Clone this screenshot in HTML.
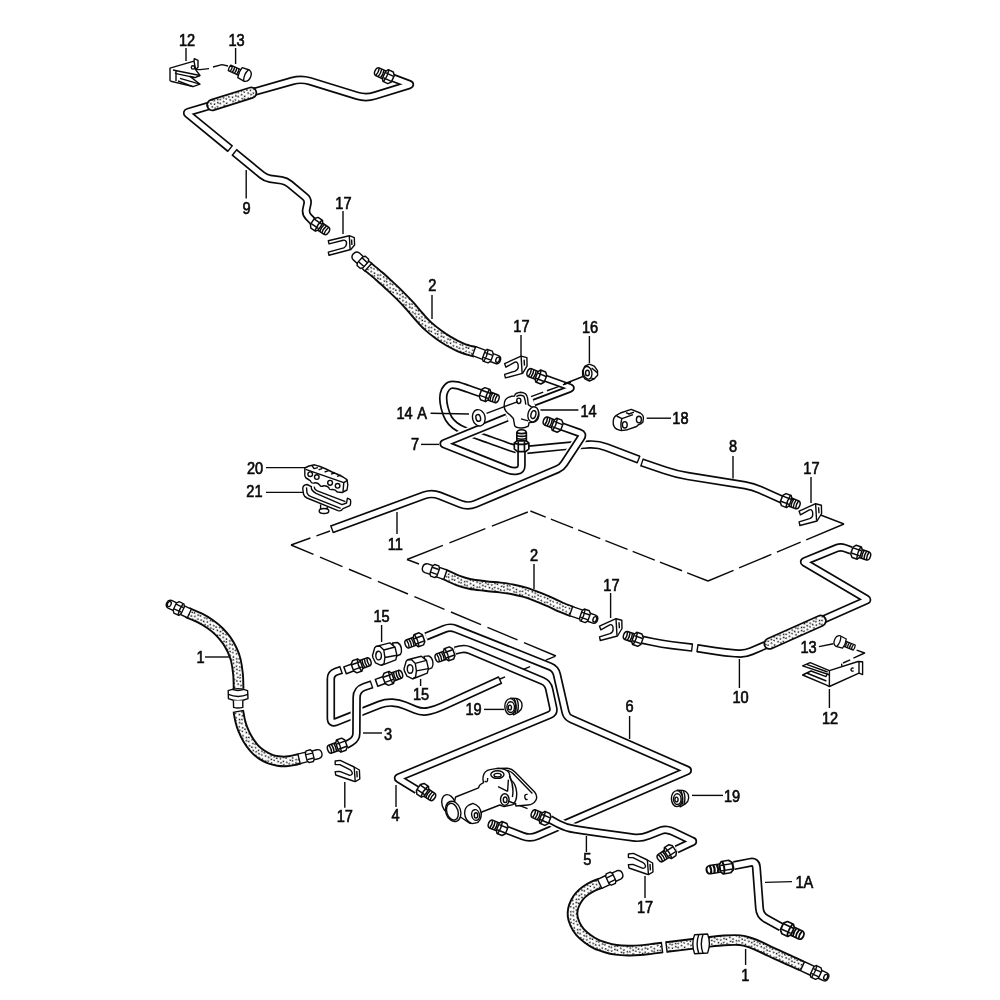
<!DOCTYPE html>
<html lang="en">
<head>
<meta charset="utf-8">
<title>Brake lines diagram</title>
<style>
html,body{margin:0;padding:0;background:#fff}
body{width:1000px;height:1000px;overflow:hidden}
svg{display:block}
.to{fill:none;stroke:#0a0a0a;stroke-linejoin:round;stroke-linecap:butt}
.ti{fill:none;stroke:#fff;stroke-linejoin:round;stroke-linecap:butt}
.hi{fill:none;stroke:url(#dots);stroke-linejoin:round;stroke-linecap:butt}
.s{fill:#fff;stroke:#0a0a0a;stroke-width:1.4;stroke-linejoin:round}
.l{fill:none;stroke:#0a0a0a;stroke-width:1.4;stroke-linecap:butt;stroke-linejoin:round}
text{word-spacing:1.6px;font-family:"Liberation Sans",Arial,Helvetica,sans-serif;fill:#0a0a0a;text-anchor:middle;stroke:#0a0a0a;stroke-width:0.65}
</style>
</head>
<body>
<svg width="1000" height="1000" viewBox="0 0 1000 1000">
<defs>
<pattern id="dots" width="13.6" height="13.6" patternUnits="userSpaceOnUse" patternTransform="rotate(24)">
<rect width="13.6" height="13.6" fill="#fff"/>
<circle cx="0.8" cy="1.8" r="0.85" fill="#0a0a0a"/>
<circle cx="14.4" cy="1.8" r="0.85" fill="#0a0a0a"/>
<circle cx="3.1" cy="5.1" r="0.85" fill="#0a0a0a"/>
<circle cx="0.9" cy="8.6" r="0.85" fill="#0a0a0a"/>
<circle cx="14.5" cy="8.6" r="0.85" fill="#0a0a0a"/>
<circle cx="2.1" cy="11.9" r="0.85" fill="#0a0a0a"/>
<circle cx="4.4" cy="2.1" r="0.85" fill="#0a0a0a"/>
<circle cx="5.4" cy="4.8" r="0.85" fill="#0a0a0a"/>
<circle cx="3.7" cy="8.9" r="0.85" fill="#0a0a0a"/>
<circle cx="6.2" cy="11.3" r="0.85" fill="#0a0a0a"/>
<circle cx="8.3" cy="2.4" r="0.85" fill="#0a0a0a"/>
<circle cx="9.6" cy="5.3" r="0.85" fill="#0a0a0a"/>
<circle cx="7.2" cy="7.8" r="0.85" fill="#0a0a0a"/>
<circle cx="9.4" cy="11.3" r="0.85" fill="#0a0a0a"/>
<circle cx="10.6" cy="1.3" r="0.85" fill="#0a0a0a"/>
<circle cx="12.1" cy="5.0" r="0.85" fill="#0a0a0a"/>
<circle cx="11.0" cy="9.0" r="0.85" fill="#0a0a0a"/>
<circle cx="-0.8" cy="12.1" r="0.85" fill="#0a0a0a"/>
<circle cx="12.8" cy="12.1" r="0.85" fill="#0a0a0a"/>
</pattern>
</defs>
<rect width="1000" height="1000" fill="#fff"/>
<path d="M330,531 L291,545" class="l" stroke-width="1.7" stroke-dasharray="14.4 6.4 22" stroke-dashoffset="0"/>
<path d="M291,545 L556,656" class="l" stroke-width="1.7" stroke-dasharray="24.4 7 24.4 7 24.4 7 32.6 7 32.6 7 32.6 7 32.6 7 40" stroke-dashoffset="0"/>
<path d="M556,656 L500,679" class="l" stroke-width="1.7" stroke-dasharray="10 17" stroke-dashoffset="-1"/>
<path d="M419,564 L407,559.5" class="l" stroke-width="1.7"/>
<path d="M407,559.5 L530.4,511" class="l" stroke-width="1.7" stroke-dasharray="38.6 7" stroke-dashoffset="0"/>
<path d="M530.4,511 L708,581" class="l" stroke-width="1.7" stroke-dasharray="16.5 5.5 23.8 5.5 23.8 5.5 23.8 5.5 23.8 5.5 23.8 5.5 30" stroke-dashoffset="0"/>
<path d="M708,581 L844,524" class="l" stroke-width="1.7" stroke-dasharray="27.7 6 35 6 25.8 6 45" stroke-dashoffset="0"/>
<path d="M844,524 L818,514" class="l" stroke-width="1.7"/>
<path d="M392,77.6 L409.2,84.1 Q410.6,84.6 409.2,85 L374.6,95.7 Q366,98.4 357.4,95.8 L309.6,81.1 Q301,78.5 292.3,81 L250,93" class="to" stroke-width="8.6"/>
<path d="M392,77.6 L409.2,84.1 Q410.6,84.6 409.2,85 L374.6,95.7 Q366,98.4 357.4,95.8 L309.6,81.1 Q301,78.5 292.3,81 L250,93" class="ti" stroke-width="5.2"/>
<g transform="translate(384.5,75) rotate(25) scale(1.06,1.06)">
<path d="M0,-4 L-7.4,-4 Q-9.8,-3.6 -9.8,0 Q-9.8,3.6 -7.4,4 L0,4 Z" class="s" stroke-width="1.7"/>
<path d="M-7.2,-4 Q-6,0 -7.2,4 M-4.8,-4 Q-3.6,0 -4.8,4 M-2.4,-4 Q-1.2,0 -2.4,4" class="l" stroke-width="1.9"/>
<path d="M-0.5,-3.6 L1.2,-6.1 L6.3,-6.1 L8.6,-3.4 L8.6,3.4 L6.3,6.1 L1.2,6.1 L-0.5,3.6 Z" class="s" stroke-width="1.8"/>
<path d="M0,-2.4 L8.3,-2.4 M0,2.8 L8.3,2.8 M1.8,-6 Q3.2,0 1.8,6" class="l" stroke-width="1.3"/>
</g>
<path d="M214,104.4 L188.2,112.1 Q186.3,112.7 187.8,114 L230,148.6" class="to" stroke-width="8.6"/>
<path d="M214,104.4 L188.2,112.1 Q186.3,112.7 187.8,114 L230,148.6" class="ti" stroke-width="5.2"/>
<path d="M232.6,145.4 L227.4,151.8" class="l"/>
<path d="M234.5,152.5 L262,175.1 Q265.5,178 270,178.7 L281.5,180.3 Q286,181 289.5,183.9 L304.9,196.7 Q308.4,199.6 307.4,204 L306.3,209.1 Q305.3,213.5 308.4,216.8 L314,222.6" class="to" stroke-width="8.6"/>
<path d="M234.5,152.5 L262,175.1 Q265.5,178 270,178.7 L281.5,180.3 Q286,181 289.5,183.9 L304.9,196.7 Q308.4,199.6 307.4,204 L306.3,209.1 Q305.3,213.5 308.4,216.8 L314,222.6" class="ti" stroke-width="5.2"/>
<path d="M231.9,155.7 L237.1,149.3" class="l"/>
<path d="M212.4,105 L251,92.8" class="to" stroke-width="12.4" style="stroke-linecap:round"/>
<path d="M212.4,105 L251,92.8" class="hi" stroke-width="9" style="stroke-linecap:round"/>
<g transform="translate(320,226.5) rotate(214) scale(1.06,1.06)">
<path d="M0,-4 L-7.4,-4 Q-9.8,-3.6 -9.8,0 Q-9.8,3.6 -7.4,4 L0,4 Z" class="s" stroke-width="1.7"/>
<path d="M-7.2,-4 Q-6,0 -7.2,4 M-4.8,-4 Q-3.6,0 -4.8,4 M-2.4,-4 Q-1.2,0 -2.4,4" class="l" stroke-width="1.9"/>
<path d="M-0.5,-3.6 L1.2,-6.1 L6.3,-6.1 L8.6,-3.4 L8.6,3.4 L6.3,6.1 L1.2,6.1 L-0.5,3.6 Z" class="s" stroke-width="1.8"/>
<path d="M0,-2.4 L8.3,-2.4 M0,2.8 L8.3,2.8 M1.8,-6 Q3.2,0 1.8,6" class="l" stroke-width="1.3"/>
</g>
<path d="M170,68.2 L194,61.2 L194.3,58.6 L198,60.4 L198,67.2 L195.6,69.6 L200,75.5 L195,77.6 L190,76.4 L200,84.2 L193,86.6 L171,81.2 L170,80.4 Z" class="s" stroke-width="1.5"/>
<path d="M173,70 L200,75.5 M175,73.4 L195,77.6 M176,70.4 L176,81 M180,78.4 L200,84.2 M178,81 L193,86.6 M194,61.2 L195.6,69.6" class="l" stroke-width="1.2"/>
<circle cx="193" cy="67.4" r="1.7" class="s" stroke-width="1.1"/>
<path d="M194.6,68.6 Q197,69.8 200,69.6 L209,68.6 M213,67 L222,64.6 L228,66" class="l" stroke-width="1.4"/>
<g transform="translate(240,72.6) rotate(24)">
<path d="M-11.5,-3 L0,-3 L0,3 L-11.5,3 Q-12.6,0 -11.5,-3 Z" class="s" stroke-width="1.4"/>
<path d="M-9.6,-3 Q-8.6,0 -9.6,3 M-7.2,-3 Q-6.2,0 -7.2,3 M-4.8,-3 Q-3.8,0 -4.8,3 M-2.4,-3 Q-1.4,0 -2.4,3" class="l" stroke-width="1.5"/>
<path d="M0,-5.4 L7.5,-6.2 Q11.5,-5 11.5,0 Q11.5,5 7.5,6.2 L0,5.4 Q-1.6,0 0,-5.4 Z" class="s" stroke-width="1.6"/>
<path d="M6.6,-6 Q4,0 6.6,6" class="l" stroke-width="1.1"/>
</g>
<g transform="translate(341.3,245.5)">
<path d="M-13,-4.8 L8,-9.8 L13,-7.8 L13.3,-0.5 L9.5,4 L-12.3,9.8 L-13,6.6 L2.5,2.3 Q5.6,0.5 5.2,-3 Q4.6,-5.6 2,-5.3 L-12.3,-1.6 Z" class="s" stroke-width="1.6"/>
<path d="M8,-9.5 L8.8,3.8 M10.3,-6 L10.6,-0.5" class="l" stroke-width="1.1"/>
</g>
<path d="M367,266 C369,267.7 375.2,272.7 379,276 C382.8,279.3 386.5,282.8 390,286 C393.5,289.2 396.7,292.2 400,295.5 C403.3,298.8 406.8,302.5 410,306 C413.2,309.5 416,313.2 419,316.5 C422,319.8 424.8,323.1 428,326 C431.2,328.9 434.7,331.7 438,334.2 C441.3,336.7 444,338.5 448,340.8 C452,343.1 457.4,346.1 462,348 C466.6,349.9 473.2,351.3 475.5,352" class="to" stroke-width="11.6"/>
<path d="M367,266 C369,267.7 375.2,272.7 379,276 C382.8,279.3 386.5,282.8 390,286 C393.5,289.2 396.7,292.2 400,295.5 C403.3,298.8 406.8,302.5 410,306 C413.2,309.5 416,313.2 419,316.5 C422,319.8 424.8,323.1 428,326 C431.2,328.9 434.7,331.7 438,334.2 C441.3,336.7 444,338.5 448,340.8 C452,343.1 457.4,346.1 462,348 C466.6,349.9 473.2,351.3 475.5,352" class="hi" stroke-width="7.8"/>
<g transform="translate(367.5,266.5) rotate(222)">
<path d="M7,-4.6 L15,-4.6 Q19,-4.2 19,0 Q19,4.2 15,4.6 L7,4.6 Z" class="s" stroke-width="1.6"/>
<path d="M-1,-5 L3,-5 L3,5 L-1,5 Z" class="s" stroke-width="1.5"/>
<path d="M2.5,-3.8 L4,-6.2 L8.5,-6.2 L10,-3.8 L10,3.8 L8.5,6.2 L4,6.2 L2.5,3.8 Z" class="s" stroke-width="1.7"/>
<path d="M3,-2.4 L9.8,-2.4 M3,2.8 L9.8,2.8" class="l" stroke-width="1.1"/>
</g>
<g transform="translate(475,351.5) rotate(20) scale(0.98,0.98)">
<path d="M16,-4.3 L24,-4.3 Q27.5,-4 27.5,0 Q27.5,4 24,4.3 L16,4.3 Z" class="s" stroke-width="1.6"/>
<ellipse cx="24.6" cy="0" rx="1.8" ry="2.8" class="s" stroke-width="1.3"/>
<path d="M-1,-4.9 L10,-4.9 L10,4.9 L-1,4.9 Z" class="s" stroke-width="1.6"/>
<path d="M9.5,-3.8 L11,-6.4 L16.5,-6.4 L18.5,-3.8 L18.5,3.8 L16.5,6.4 L11,6.4 L9.5,3.8 Z" class="s" stroke-width="1.7"/>
<path d="M10,-2.4 L18.3,-2.4 M10,2.8 L18.3,2.8 M12,-6.2 Q13.2,0 12,6.2" class="l" stroke-width="1.1"/>
</g>
<g transform="translate(515.5,367)">
<path d="M-10.9,-3.4 L5.6,-10.9 L11.4,-9.4 L11.6,-1.1 L7.1,6.4 L-10.1,10.9 L-10.9,7.3 L-0.4,4.1 Q2.8,2.6 2.7,0.2 Q2.9,-3.2 1.9,-4.1 Q1,-5.3 -0.6,-4.8 L-9.6,0.2 Z" class="s" stroke-width="1.6"/>
<path d="M5.6,-10.9 L6.6,6.2 M8.6,-7.4 L9,-1.4" class="l" stroke-width="1.1"/>
</g>
<path d="M480,393 C478,392.3 471.8,390.1 468,388.8 C464.2,387.5 460.1,385.8 457,385.2 C453.9,384.6 451.5,384.4 449.5,385.3 C447.5,386.2 445.9,388.4 444.8,390.5 C443.8,392.6 443.2,395.1 443.2,398 C443.2,400.9 443.7,404.6 444.6,408 C445.5,411.4 446.9,415.6 448.6,418.5 C450.3,421.4 452.3,423.4 455,425.5 C457.7,427.6 459.2,428.6 465,431 C470.8,433.4 482.5,437.3 490,440 C497.5,442.7 504.8,445.5 510,447.2 C515.2,448.9 519.6,449.9 521.5,450.4" class="to" stroke-width="8.6"/>
<path d="M480,393 C478,392.3 471.8,390.1 468,388.8 C464.2,387.5 460.1,385.8 457,385.2 C453.9,384.6 451.5,384.4 449.5,385.3 C447.5,386.2 445.9,388.4 444.8,390.5 C443.8,392.6 443.2,395.1 443.2,398 C443.2,400.9 443.7,404.6 444.6,408 C445.5,411.4 446.9,415.6 448.6,418.5 C450.3,421.4 452.3,423.4 455,425.5 C457.7,427.6 459.2,428.6 465,431 C470.8,433.4 482.5,437.3 490,440 C497.5,442.7 504.8,445.5 510,447.2 C515.2,448.9 519.6,449.9 521.5,450.4" class="ti" stroke-width="5.2"/>
<path d="M521.5,450.4 L557.5,446.8 Q571,445.5 584.5,444.8 L589,444.5 Q598,444 606.4,447.2 L638.5,459.5" class="to" stroke-width="8.6"/>
<path d="M521.5,450.4 L557.5,446.8 Q571,445.5 584.5,444.8 L589,444.5 Q598,444 606.4,447.2 L638.5,459.5" class="ti" stroke-width="5.2"/>
<path d="M640,455.7 L637,463.3" class="l"/>
<path d="M642,462.5 L664.7,470.3 Q676,474.2 687.8,476.1 L745.1,485.3 Q753,486.6 760.3,489.9 L782,499.6" class="to" stroke-width="8.6"/>
<path d="M642,462.5 L664.7,470.3 Q676,474.2 687.8,476.1 L745.1,485.3 Q753,486.6 760.3,489.9 L782,499.6" class="ti" stroke-width="5.2"/>
<path d="M640.7,466.4 L643.3,458.6" class="l"/>
<g transform="translate(790,502) rotate(201) scale(1.06,1.06)">
<path d="M0,-4 L-7.4,-4 Q-9.8,-3.6 -9.8,0 Q-9.8,3.6 -7.4,4 L0,4 Z" class="s" stroke-width="1.7"/>
<path d="M-7.2,-4 Q-6,0 -7.2,4 M-4.8,-4 Q-3.6,0 -4.8,4 M-2.4,-4 Q-1.2,0 -2.4,4" class="l" stroke-width="1.9"/>
<path d="M-0.5,-3.6 L1.2,-6.1 L6.3,-6.1 L8.6,-3.4 L8.6,3.4 L6.3,6.1 L1.2,6.1 L-0.5,3.6 Z" class="s" stroke-width="1.8"/>
<path d="M0,-2.4 L8.3,-2.4 M0,2.8 L8.3,2.8 M1.8,-6 Q3.2,0 1.8,6" class="l" stroke-width="1.3"/>
</g>
<g transform="translate(489,396) rotate(200) scale(1.06,1.06)">
<path d="M0,-4 L-7.4,-4 Q-9.8,-3.6 -9.8,0 Q-9.8,3.6 -7.4,4 L0,4 Z" class="s" stroke-width="1.7"/>
<path d="M-7.2,-4 Q-6,0 -7.2,4 M-4.8,-4 Q-3.6,0 -4.8,4 M-2.4,-4 Q-1.2,0 -2.4,4" class="l" stroke-width="1.9"/>
<path d="M-0.5,-3.6 L1.2,-6.1 L6.3,-6.1 L8.6,-3.4 L8.6,3.4 L6.3,6.1 L1.2,6.1 L-0.5,3.6 Z" class="s" stroke-width="1.8"/>
<path d="M0,-2.4 L8.3,-2.4 M0,2.8 L8.3,2.8 M1.8,-6 Q3.2,0 1.8,6" class="l" stroke-width="1.3"/>
</g>
<path d="M546,378.5 L569.6,387 Q572.4,388 569.6,389.1 L534,402.6" class="to" stroke-width="7.6"/>
<path d="M546,378.5 L569.6,387 Q572.4,388 569.6,389.1 L534,402.6" class="ti" stroke-width="4.2"/>
<g transform="translate(537,375.5) rotate(22) scale(1.06,1.06)">
<path d="M0,-4 L-7.4,-4 Q-9.8,-3.6 -9.8,0 Q-9.8,3.6 -7.4,4 L0,4 Z" class="s" stroke-width="1.7"/>
<path d="M-7.2,-4 Q-6,0 -7.2,4 M-4.8,-4 Q-3.6,0 -4.8,4 M-2.4,-4 Q-1.2,0 -2.4,4" class="l" stroke-width="1.9"/>
<path d="M-0.5,-3.6 L1.2,-6.1 L6.3,-6.1 L8.6,-3.4 L8.6,3.4 L6.3,6.1 L1.2,6.1 L-0.5,3.6 Z" class="s" stroke-width="1.8"/>
<path d="M0,-2.4 L8.3,-2.4 M0,2.8 L8.3,2.8 M1.8,-6 Q3.2,0 1.8,6" class="l" stroke-width="1.3"/>
</g>
<path d="M521.5,450 L521.5,465.4 Q521.5,470 517,470.8 L517,470.8 Q512.5,471.5 508.3,469.8 L444.4,444.3 Q443,443.7 444.4,443.1 L507,417.6" class="ti" stroke-width="11.8"/>
<path d="M521.5,450 L521.5,465.4 Q521.5,470 517,470.8 L517,470.8 Q512.5,471.5 508.3,469.8 L444.4,444.3 Q443,443.7 444.4,443.1 L507,417.6" class="to" stroke-width="8.6"/>
<path d="M521.5,450 L521.5,465.4 Q521.5,470 517,470.8 L517,470.8 Q512.5,471.5 508.3,469.8 L444.4,444.3 Q443,443.7 444.4,443.1 L507,417.6" class="ti" stroke-width="5.2"/>
<path d="M531,396.6 L571,382" class="l" stroke-width="1.4" stroke-dasharray="13 4" stroke-dashoffset="0"/>
<path d="M564,384 L583,376.5" class="l" stroke-width="1.4"/>
<g transform="translate(478.8,417.8) rotate(-14)">
<ellipse rx="6.3" ry="8.3" class="s" stroke-width="2"/><ellipse cx="-0.6" rx="2.3" ry="3.4" class="s" stroke-width="1.5"/>
</g>
<path d="M514.6,396 Q515,392.6 521,392.3 Q527,392.8 527.6,398.4 L528.3,404.6 L531,406.6 L536,407.4 Q539.4,411 538.8,416 Q538,421.4 533,422.4 L529,422.6 L528.4,426.2 Q524,428.4 520.6,428 Q515,427.6 514.6,425.4 L513.4,418.6 L509.6,414.6 Q504,411 504.2,406 Q504,399 508.4,397.4 Q511.6,396 514.6,396 Z" class="s" stroke-width="1.6"/>
<ellipse cx="533.2" cy="414.4" rx="5.2" ry="7.6" class="s" stroke-width="1.7" transform="rotate(14 533.2 414.4)"/><ellipse cx="533.4" cy="414.6" rx="2.4" ry="4" class="s" stroke-width="1.3" transform="rotate(14 533.4 414.6)"/>
<ellipse cx="518.8" cy="400.8" rx="2.1" ry="2.7" class="s" stroke-width="1.3"/>
<path d="M516.4,396.6 Q520,394 524,396.4 Q525.4,400 525.8,404.6 M521,418.8 L528.2,420.8" class="l" stroke-width="1.2"/>
<path d="M486.5,413.3 L518,401.6" class="l" stroke-width="1.4"/>
<g transform="translate(521.6,441.4) rotate(90) scale(1.19,1.19)">
<path d="M0,-4 L-7.4,-4 Q-9.8,-3.6 -9.8,0 Q-9.8,3.6 -7.4,4 L0,4 Z" class="s" stroke-width="1.7"/>
<path d="M-7.2,-4 Q-6,0 -7.2,4 M-4.8,-4 Q-3.6,0 -4.8,4 M-2.4,-4 Q-1.2,0 -2.4,4" class="l" stroke-width="1.9"/>
<path d="M-0.5,-3.6 L1.2,-6.1 L6.3,-6.1 L8.6,-3.4 L8.6,3.4 L6.3,6.1 L1.2,6.1 L-0.5,3.6 Z" class="s" stroke-width="1.8"/>
<path d="M0,-2.4 L8.3,-2.4 M0,2.8 L8.3,2.8 M1.8,-6 Q3.2,0 1.8,6" class="l" stroke-width="1.3"/>
</g>
<path d="M561,426.2 L579.6,432.9 Q583.4,434.2 581.2,437.5 L564.1,463.6 Q561.6,467.4 557.5,469.2 L475.4,503.9 Q468,507 460.6,504 L439.4,495.6 Q432,492.6 424.5,495.3 L332,529.2" class="ti" stroke-width="11.8"/>
<path d="M561,426.2 L579.6,432.9 Q583.4,434.2 581.2,437.5 L564.1,463.6 Q561.6,467.4 557.5,469.2 L475.4,503.9 Q468,507 460.6,504 L439.4,495.6 Q432,492.6 424.5,495.3 L332,529.2" class="to" stroke-width="8.6"/>
<path d="M561,426.2 L579.6,432.9 Q583.4,434.2 581.2,437.5 L564.1,463.6 Q561.6,467.4 557.5,469.2 L475.4,503.9 Q468,507 460.6,504 L439.4,495.6 Q432,492.6 424.5,495.3 L332,529.2" class="ti" stroke-width="5.2"/>
<path d="M333.4,533.1 L330.6,525.3" class="l"/>
<g transform="translate(553.3,423.8) rotate(21) scale(1.06,1.06)">
<path d="M0,-4 L-7.4,-4 Q-9.8,-3.6 -9.8,0 Q-9.8,3.6 -7.4,4 L0,4 Z" class="s" stroke-width="1.7"/>
<path d="M-7.2,-4 Q-6,0 -7.2,4 M-4.8,-4 Q-3.6,0 -4.8,4 M-2.4,-4 Q-1.2,0 -2.4,4" class="l" stroke-width="1.9"/>
<path d="M-0.5,-3.6 L1.2,-6.1 L6.3,-6.1 L8.6,-3.4 L8.6,3.4 L6.3,6.1 L1.2,6.1 L-0.5,3.6 Z" class="s" stroke-width="1.8"/>
<path d="M0,-2.4 L8.3,-2.4 M0,2.8 L8.3,2.8 M1.8,-6 Q3.2,0 1.8,6" class="l" stroke-width="1.3"/>
</g>
<path d="M582.6,370.7 L584.9,366.2 L589.4,364.1 L594.3,366.2 L597.5,370.7 L597.6,375.2 L594.3,378.8 L589.4,381 L584.9,378.8 L582.6,375.2 Z" class="s" stroke-width="1.7"/>
<ellipse cx="587.6" cy="372.8" rx="4.3" ry="6.4" class="s" stroke-width="1.3" transform="rotate(-12 587.6 372.8)"/><ellipse cx="587.4" cy="373" rx="1.9" ry="2.8" class="s" stroke-width="1.2"/>
<path d="M591.6,368 L597.2,372.6 M591.4,378.4 L594.2,378.6" class="l" stroke-width="1.1"/>
<path d="M613.2,422 Q613.4,417.4 615.9,415.7 L620.4,413 L631.2,409.4 L640.2,413 Q643.6,415 643.4,418.4 L642.9,422 Q641.6,424 638.4,424.7 L636.6,426.5 L627.6,429.7 L621.3,430.6 Q615.6,429.4 614.2,426.6 Q613,424.6 613.2,422 Z" class="s" stroke-width="1.6"/>
<ellipse cx="624.8" cy="424.8" rx="2.4" ry="3.2" class="s" stroke-width="1.3"/><ellipse cx="638.9" cy="419.6" rx="2.5" ry="3.3" class="s" stroke-width="1.3"/>
<path d="M616.6,416 L622,418.6 L633,414.6 M622,418.6 Q620,424 621.6,430.4 M626,412.6 L629,414 L634,412.2" class="l" stroke-width="1.2"/>
<g transform="translate(810,514.6)">
<path d="M-10.9,-3.4 L5.6,-10.9 L11.4,-9.4 L11.6,-1.1 L7.1,6.4 L-10.1,10.9 L-10.9,7.3 L-0.4,4.1 Q2.8,2.6 2.7,0.2 Q2.9,-3.2 1.9,-4.1 Q1,-5.3 -0.6,-4.8 L-9.6,0.2 Z" class="s" stroke-width="1.6"/>
<path d="M5.6,-10.9 L6.6,6.2 M8.6,-7.4 L9,-1.4" class="l" stroke-width="1.1"/>
</g>
<path d="M307,484.5 Q302.5,485 302.8,489 L303.5,494 Q304,496.5 307,498 L338,510.6 Q341,511.6 343,508.6 L350,505.6 Q351.2,502 350.3,499.6 L347.4,498.2 L346.6,503 L342,504.6 L316,493.4 Q310.4,490 311.4,486.6 Z" class="s" stroke-width="1.5"/>
<path d="M306.5,487.4 L307,493 Q308,495.5 311,496.6 L340.6,508.4 M314.4,486.6 Q314,489.6 318.6,491.4 L345.4,501.6" class="l" stroke-width="1.2"/>
<path d="M320.6,504.4 L320.6,509 M327.2,507 L327.2,509.6" class="l" stroke-width="1.3"/><ellipse cx="324" cy="511" rx="4.8" ry="2.5" class="s" stroke-width="1.4"/>
<path d="M304.8,468 L309,466 L314.5,464.8 L320,466.5 L326,469 L332,472 L338,474.5 L343,477 L347,479.7 L347.8,485 L347,490 L342,492.5 L337.3,492 Q335,489 332,489.5 Q329,490 328.8,487.5 Q326,485 323,486 Q320.5,487 319.7,485 Q317,482 314,483 Q311,483.5 310.6,481 Q308,479 306,478 Q304.5,476 304.8,474.5 Z" class="s" stroke-width="1.6"/>
<circle cx="310.2" cy="474.2" r="2.3" class="s" stroke-width="1.2"/><circle cx="316.8" cy="477.1" r="2.3" class="s" stroke-width="1.2"/><circle cx="330.1" cy="482.8" r="2.4" class="s" stroke-width="1.2"/><circle cx="337.6" cy="485.8" r="2.3" class="s" stroke-width="1.2"/>
<path d="M305.7,469.4 L343.8,482.6 L343,491.6 M343.8,482.6 L347.4,480.4 M312,465.6 L314,468.6 L318,467.6 M318.6,469.8 L322.4,468.4 M324.6,472 L328.6,470.6 M331,474.2 L335,472.8 M337,476.4 L341,475.2" class="l" stroke-width="1.2"/>
<path d="M851,550.4 L844.4,548 Q840.6,546.6 836.9,548.1 L804.8,561.2 Q803.4,561.8 804.7,562.6 L866.5,599 Q867.8,599.8 866.4,600.4 L819,621.4" class="to" stroke-width="8.6"/>
<path d="M851,550.4 L844.4,548 Q840.6,546.6 836.9,548.1 L804.8,561.2 Q803.4,561.8 804.7,562.6 L866.5,599 Q867.8,599.8 866.4,600.4 L819,621.4" class="ti" stroke-width="5.2"/>
<g transform="translate(860.5,553.5) rotate(199) scale(1.06,1.06)">
<path d="M0,-4 L-7.4,-4 Q-9.8,-3.6 -9.8,0 Q-9.8,3.6 -7.4,4 L0,4 Z" class="s" stroke-width="1.7"/>
<path d="M-7.2,-4 Q-6,0 -7.2,4 M-4.8,-4 Q-3.6,0 -4.8,4 M-2.4,-4 Q-1.2,0 -2.4,4" class="l" stroke-width="1.9"/>
<path d="M-0.5,-3.6 L1.2,-6.1 L6.3,-6.1 L8.6,-3.4 L8.6,3.4 L6.3,6.1 L1.2,6.1 L-0.5,3.6 Z" class="s" stroke-width="1.8"/>
<path d="M0,-2.4 L8.3,-2.4 M0,2.8 L8.3,2.8 M1.8,-6 Q3.2,0 1.8,6" class="l" stroke-width="1.3"/>
</g>
<path d="M771,642.8 L751.4,651.2 Q745,654 738,653.5 L735,653.3 Q725,652.6 715.1,651 L697.5,648.2" class="to" stroke-width="8.6"/>
<path d="M771,642.8 L751.4,651.2 Q745,654 738,653.5 L735,653.3 Q725,652.6 715.1,651 L697.5,648.2" class="ti" stroke-width="5.2"/>
<path d="M696.9,652.2 L698.1,644.2" class="l"/>
<path d="M692,647.6 L671.9,645.2 Q662,644 652.2,641.9 L642,639.8" class="to" stroke-width="8.6"/>
<path d="M692,647.6 L671.9,645.2 Q662,644 652.2,641.9 L642,639.8" class="ti" stroke-width="5.2"/>
<path d="M692.5,643.5 L691.5,651.7" class="l"/>
<path d="M769.6,643.6 L820.6,620.8" class="to" stroke-width="12.4" style="stroke-linecap:round"/>
<path d="M769.6,643.6 L820.6,620.8" class="hi" stroke-width="9" style="stroke-linecap:round"/>
<g transform="translate(633.5,638) rotate(19) scale(1.06,1.06)">
<path d="M0,-4 L-7.4,-4 Q-9.8,-3.6 -9.8,0 Q-9.8,3.6 -7.4,4 L0,4 Z" class="s" stroke-width="1.7"/>
<path d="M-7.2,-4 Q-6,0 -7.2,4 M-4.8,-4 Q-3.6,0 -4.8,4 M-2.4,-4 Q-1.2,0 -2.4,4" class="l" stroke-width="1.9"/>
<path d="M-0.5,-3.6 L1.2,-6.1 L6.3,-6.1 L8.6,-3.4 L8.6,3.4 L6.3,6.1 L1.2,6.1 L-0.5,3.6 Z" class="s" stroke-width="1.8"/>
<path d="M0,-2.4 L8.3,-2.4 M0,2.8 L8.3,2.8 M1.8,-6 Q3.2,0 1.8,6" class="l" stroke-width="1.3"/>
</g>
<g transform="translate(844.4,643.6) rotate(202) scale(0.92,0.92)">
<path d="M-11.5,-3 L0,-3 L0,3 L-11.5,3 Q-12.6,0 -11.5,-3 Z" class="s" stroke-width="1.4"/>
<path d="M-9.6,-3 Q-8.6,0 -9.6,3 M-7.2,-3 Q-6.2,0 -7.2,3 M-4.8,-3 Q-3.8,0 -4.8,3 M-2.4,-3 Q-1.4,0 -2.4,3" class="l" stroke-width="1.5"/>
<path d="M0,-5.4 L7.5,-6.2 Q11.5,-5 11.5,0 Q11.5,5 7.5,6.2 L0,5.4 Q-1.6,0 0,-5.4 Z" class="s" stroke-width="1.6"/>
<path d="M6.6,-6 Q4,0 6.6,6" class="l" stroke-width="1.1"/>
</g>
<path d="M856.6,650.2 L864.6,653 L853.4,658.2 M850.2,659.8 L843,663 M841.6,663.6 L841.8,666" class="l" stroke-width="1.4"/>
<path d="M829.4,670.6 L858,661.5 L862.6,661.8 L862.6,674.6 L859,673.2 L829.4,686.5 L826.6,685.2 L802.6,675 L811,671 L826,676.6 L827,674 L802.6,665.8 L810.2,662.6 Z" class="s" stroke-width="1.5"/>
<path d="M829.4,670.6 L829.4,686.5 M859,661.6 L859,673.2 M827,674 L829.4,675 M806.6,664.4 L827.6,672 M806.6,673 L826.4,681" class="l" stroke-width="1.2"/>
<path d="M853.6,668.2 Q851,667.6 851,669.6 Q851,671.6 853.6,671" class="l" stroke-width="1.2"/>
<path d="M443.6,574 C446,575.1 453.6,578.8 458,580.5 C462.4,582.2 465.5,583.1 470,584 C474.5,584.9 480,585.4 485,586 C490,586.6 495.5,587 500,587.5 C504.5,588 508,588.5 512,589.2 C516,590 519.8,590.8 524,592 C528.2,593.2 532.7,594.9 537,596.6 C541.3,598.3 546,600.2 550,602 C554,603.8 557.3,605.6 561,607.2 C564.7,608.8 570.5,610.9 572.4,611.6" class="to" stroke-width="11.6"/>
<path d="M443.6,574 C446,575.1 453.6,578.8 458,580.5 C462.4,582.2 465.5,583.1 470,584 C474.5,584.9 480,585.4 485,586 C490,586.6 495.5,587 500,587.5 C504.5,588 508,588.5 512,589.2 C516,590 519.8,590.8 524,592 C528.2,593.2 532.7,594.9 537,596.6 C541.3,598.3 546,600.2 550,602 C554,603.8 557.3,605.6 561,607.2 C564.7,608.8 570.5,610.9 572.4,611.6" class="hi" stroke-width="7.8"/>
<g transform="translate(444.4,574.4) rotate(199)">
<path d="M11,-4.6 L19,-4.6 Q23,-4.2 23,0 Q23,4.2 19,4.6 L11,4.6 Z" class="s" stroke-width="1.6"/>
<path d="M-1,-5 L7,-5 L7,5 L-1,5 Z" class="s" stroke-width="1.5"/>
<path d="M6.5,-3.8 L8,-6.2 L12.5,-6.2 L14,-3.8 L14,3.8 L12.5,6.2 L8,6.2 L6.5,3.8 Z" class="s" stroke-width="1.7"/>
<path d="M7,-2.4 L13.8,-2.4 M7,2.8 L13.8,2.8" class="l" stroke-width="1.1"/>
</g>
<g transform="translate(572,611.4) rotate(19) scale(0.98,0.98)">
<path d="M16,-4.3 L24,-4.3 Q27.5,-4 27.5,0 Q27.5,4 24,4.3 L16,4.3 Z" class="s" stroke-width="1.6"/>
<ellipse cx="24.6" cy="0" rx="1.8" ry="2.8" class="s" stroke-width="1.3"/>
<path d="M-1,-4.9 L10,-4.9 L10,4.9 L-1,4.9 Z" class="s" stroke-width="1.6"/>
<path d="M9.5,-3.8 L11,-6.4 L16.5,-6.4 L18.5,-3.8 L18.5,3.8 L16.5,6.4 L11,6.4 L9.5,3.8 Z" class="s" stroke-width="1.7"/>
<path d="M10,-2.4 L18.3,-2.4 M10,2.8 L18.3,2.8 M12,-6.2 Q13.2,0 12,6.2" class="l" stroke-width="1.1"/>
</g>
<g transform="translate(610.4,629.6)">
<path d="M-10.9,-3.4 L5.6,-10.9 L11.4,-9.4 L11.6,-1.1 L7.1,6.4 L-10.1,10.9 L-10.9,7.3 L-0.4,4.1 Q2.8,2.6 2.7,0.2 Q2.9,-3.2 1.9,-4.1 Q1,-5.3 -0.6,-4.8 L-9.6,0.2 Z" class="s" stroke-width="1.6"/>
<path d="M5.6,-10.9 L6.6,6.2 M8.6,-7.4 L9,-1.4" class="l" stroke-width="1.1"/>
</g>
<path d="M341,670 L335.9,671.8 Q330.8,673.6 330.8,679 L330.8,718 Q330.8,724 336.4,721.8 L379.9,704.6 Q386,702.2 392.5,702.6 L392.5,702.6 Q399,703 405,705.5 L415.4,709.8 Q422,712.6 429,711 L429,711 Q436,709.4 442.5,706.4 L500,680.2" class="to" stroke-width="8.6"/>
<path d="M341,670 L335.9,671.8 Q330.8,673.6 330.8,679 L330.8,718 Q330.8,724 336.4,721.8 L379.9,704.6 Q386,702.2 392.5,702.6 L392.5,702.6 Q399,703 405,705.5 L415.4,709.8 Q422,712.6 429,711 L429,711 Q436,709.4 442.5,706.4 L500,680.2" class="ti" stroke-width="5.2"/>
<path d="M339.6,666.1 L342.4,673.9" class="l"/>
<path d="M498.3,676.5 L501.7,683.9" class="l"/>
<g transform="translate(361,664.5) rotate(160) scale(1.06,1.06)">
<path d="M8,-3.4 L16,-3.4 L16,3.4 L8,3.4 Z" class="s" stroke-width="1.5"/>
<path d="M0,-4 L-7.4,-4 Q-9.8,-3.6 -9.8,0 Q-9.8,3.6 -7.4,4 L0,4 Z" class="s" stroke-width="1.7"/>
<path d="M-7.2,-4 Q-6,0 -7.2,4 M-4.8,-4 Q-3.6,0 -4.8,4 M-2.4,-4 Q-1.2,0 -2.4,4" class="l" stroke-width="1.9"/>
<path d="M-0.5,-3.6 L1.2,-6.1 L6.3,-6.1 L8.6,-3.4 L8.6,3.4 L6.3,6.1 L1.2,6.1 L-0.5,3.6 Z" class="s" stroke-width="1.8"/>
<path d="M0,-2.4 L8.3,-2.4 M0,2.8 L8.3,2.8 M1.8,-6 Q3.2,0 1.8,6" class="l" stroke-width="1.3"/>
</g>
<path d="M371.5,684.5 L364.1,687 Q356.6,689.6 356.6,697.5 L356.4,733 Q356.4,739 351.2,742 L346,745" class="ti" stroke-width="11.8"/>
<path d="M371.5,684.5 L364.1,687 Q356.6,689.6 356.6,697.5 L356.4,733 Q356.4,739 351.2,742 L346,745" class="to" stroke-width="8.6"/>
<path d="M371.5,684.5 L364.1,687 Q356.6,689.6 356.6,697.5 L356.4,733 Q356.4,739 351.2,742 L346,745" class="ti" stroke-width="5.2"/>
<path d="M370.2,680.6 L372.8,688.4" class="l"/>
<g transform="translate(392.5,677) rotate(160) scale(1.06,1.06)">
<path d="M8,-3.4 L16,-3.4 L16,3.4 L8,3.4 Z" class="s" stroke-width="1.5"/>
<path d="M0,-4 L-7.4,-4 Q-9.8,-3.6 -9.8,0 Q-9.8,3.6 -7.4,4 L0,4 Z" class="s" stroke-width="1.7"/>
<path d="M-7.2,-4 Q-6,0 -7.2,4 M-4.8,-4 Q-3.6,0 -4.8,4 M-2.4,-4 Q-1.2,0 -2.4,4" class="l" stroke-width="1.9"/>
<path d="M-0.5,-3.6 L1.2,-6.1 L6.3,-6.1 L8.6,-3.4 L8.6,3.4 L6.3,6.1 L1.2,6.1 L-0.5,3.6 Z" class="s" stroke-width="1.8"/>
<path d="M0,-2.4 L8.3,-2.4 M0,2.8 L8.3,2.8 M1.8,-6 Q3.2,0 1.8,6" class="l" stroke-width="1.3"/>
</g>
<g transform="translate(337.5,746.5) rotate(-20) scale(1.06,1.06)">
<path d="M0,-4 L-7.4,-4 Q-9.8,-3.6 -9.8,0 Q-9.8,3.6 -7.4,4 L0,4 Z" class="s" stroke-width="1.7"/>
<path d="M-7.2,-4 Q-6,0 -7.2,4 M-4.8,-4 Q-3.6,0 -4.8,4 M-2.4,-4 Q-1.2,0 -2.4,4" class="l" stroke-width="1.9"/>
<path d="M-0.5,-3.6 L1.2,-6.1 L6.3,-6.1 L8.6,-3.4 L8.6,3.4 L6.3,6.1 L1.2,6.1 L-0.5,3.6 Z" class="s" stroke-width="1.8"/>
<path d="M0,-2.4 L8.3,-2.4 M0,2.8 L8.3,2.8 M1.8,-6 Q3.2,0 1.8,6" class="l" stroke-width="1.3"/>
</g>
<g transform="translate(378.5,656)">
<path d="M14,-13 L18.8,-13.5 Q22,-12 22.8,-8 Q23.6,-4 21.8,-1.5 L18,0 Z" class="s" stroke-width="1.7"/>
<path d="M-2.3,-9.6 L11.3,-13.1 L16.5,-9 L18.4,-0.8 L17.3,3.8 L5,8.6 L2.6,9.4 L-3,6.8 L-5.6,1.5 L-6,-0.5 L-3.8,-8.3 Z" class="s" stroke-width="1.8"/>
<path d="M-2.3,-9.6 L1.5,-9.8 L5.3,-6 L6.4,1.5 L5.6,7.5 L2.6,9.4 M5.3,-6 L16.5,-9 M6.4,1.5 L18.4,-0.8" class="l" stroke-width="1.4"/>
<ellipse cx="0.1" cy="-0.4" rx="2.8" ry="4.3" class="s" stroke-width="1.6"/>
</g>
<g transform="translate(410,669.4)">
<path d="M14,-13 L18.8,-13.5 Q22,-12 22.8,-8 Q23.6,-4 21.8,-1.5 L18,0 Z" class="s" stroke-width="1.7"/>
<path d="M-2.3,-9.6 L11.3,-13.1 L16.5,-9 L18.4,-0.8 L17.3,3.8 L5,8.6 L2.6,9.4 L-3,6.8 L-5.6,1.5 L-6,-0.5 L-3.8,-8.3 Z" class="s" stroke-width="1.8"/>
<path d="M-2.3,-9.6 L1.5,-9.8 L5.3,-6 L6.4,1.5 L5.6,7.5 L2.6,9.4 M5.3,-6 L16.5,-9 M6.4,1.5 L18.4,-0.8" class="l" stroke-width="1.4"/>
<ellipse cx="0.1" cy="-0.4" rx="2.8" ry="4.3" class="s" stroke-width="1.6"/>
</g>
<path d="M455,650.6 L460.1,649.4 Q465,648.2 469.6,650.1 L542.5,680.9 Q548,683.2 549.2,689.1 L553.3,708.1 Q554.3,713 549.7,714.9 L398.8,777.4 Q397.4,778 398.7,778.8 L417,790" class="to" stroke-width="8.6"/>
<path d="M455,650.6 L460.1,649.4 Q465,648.2 469.6,650.1 L542.5,680.9 Q548,683.2 549.2,689.1 L553.3,708.1 Q554.3,713 549.7,714.9 L398.8,777.4 Q397.4,778 398.7,778.8 L417,790" class="ti" stroke-width="5.2"/>
<g transform="translate(445.2,655.2) rotate(-20) scale(1.06,1.06)">
<path d="M0,-4 L-7.4,-4 Q-9.8,-3.6 -9.8,0 Q-9.8,3.6 -7.4,4 L0,4 Z" class="s" stroke-width="1.7"/>
<path d="M-7.2,-4 Q-6,0 -7.2,4 M-4.8,-4 Q-3.6,0 -4.8,4 M-2.4,-4 Q-1.2,0 -2.4,4" class="l" stroke-width="1.9"/>
<path d="M-0.5,-3.6 L1.2,-6.1 L6.3,-6.1 L8.6,-3.4 L8.6,3.4 L6.3,6.1 L1.2,6.1 L-0.5,3.6 Z" class="s" stroke-width="1.8"/>
<path d="M0,-2.4 L8.3,-2.4 M0,2.8 L8.3,2.8 M1.8,-6 Q3.2,0 1.8,6" class="l" stroke-width="1.3"/>
</g>
<path d="M426,636.4 L444.4,628.9 Q450,626.6 455.6,628.8 L550,666.4 Q555.6,668.6 556.9,674.5 L565.5,712.1 Q566.6,717 571.2,719 L687,769.8 Q688.4,770.4 687,771 L537.3,835.8 Q530,839 522.6,836.1 L507,830" class="to" stroke-width="8.6"/>
<path d="M426,636.4 L444.4,628.9 Q450,626.6 455.6,628.8 L550,666.4 Q555.6,668.6 556.9,674.5 L565.5,712.1 Q566.6,717 571.2,719 L687,769.8 Q688.4,770.4 687,771 L537.3,835.8 Q530,839 522.6,836.1 L507,830" class="ti" stroke-width="5.2"/>
<g transform="translate(415,641.2) rotate(-20.5) scale(1.06,1.06)">
<path d="M0,-4 L-7.4,-4 Q-9.8,-3.6 -9.8,0 Q-9.8,3.6 -7.4,4 L0,4 Z" class="s" stroke-width="1.7"/>
<path d="M-7.2,-4 Q-6,0 -7.2,4 M-4.8,-4 Q-3.6,0 -4.8,4 M-2.4,-4 Q-1.2,0 -2.4,4" class="l" stroke-width="1.9"/>
<path d="M-0.5,-3.6 L1.2,-6.1 L6.3,-6.1 L8.6,-3.4 L8.6,3.4 L6.3,6.1 L1.2,6.1 L-0.5,3.6 Z" class="s" stroke-width="1.8"/>
<path d="M0,-2.4 L8.3,-2.4 M0,2.8 L8.3,2.8 M1.8,-6 Q3.2,0 1.8,6" class="l" stroke-width="1.3"/>
</g>
<g transform="translate(426,792.5) rotate(213.7) scale(1.06,1.06)">
<path d="M0,-4 L-7.4,-4 Q-9.8,-3.6 -9.8,0 Q-9.8,3.6 -7.4,4 L0,4 Z" class="s" stroke-width="1.7"/>
<path d="M-7.2,-4 Q-6,0 -7.2,4 M-4.8,-4 Q-3.6,0 -4.8,4 M-2.4,-4 Q-1.2,0 -2.4,4" class="l" stroke-width="1.9"/>
<path d="M-0.5,-3.6 L1.2,-6.1 L6.3,-6.1 L8.6,-3.4 L8.6,3.4 L6.3,6.1 L1.2,6.1 L-0.5,3.6 Z" class="s" stroke-width="1.8"/>
<path d="M0,-2.4 L8.3,-2.4 M0,2.8 L8.3,2.8 M1.8,-6 Q3.2,0 1.8,6" class="l" stroke-width="1.3"/>
</g>
<g transform="translate(498.3,827) rotate(22) scale(1.06,1.06)">
<path d="M0,-4 L-7.4,-4 Q-9.8,-3.6 -9.8,0 Q-9.8,3.6 -7.4,4 L0,4 Z" class="s" stroke-width="1.7"/>
<path d="M-7.2,-4 Q-6,0 -7.2,4 M-4.8,-4 Q-3.6,0 -4.8,4 M-2.4,-4 Q-1.2,0 -2.4,4" class="l" stroke-width="1.9"/>
<path d="M-0.5,-3.6 L1.2,-6.1 L6.3,-6.1 L8.6,-3.4 L8.6,3.4 L6.3,6.1 L1.2,6.1 L-0.5,3.6 Z" class="s" stroke-width="1.8"/>
<path d="M0,-2.4 L8.3,-2.4 M0,2.8 L8.3,2.8 M1.8,-6 Q3.2,0 1.8,6" class="l" stroke-width="1.3"/>
</g>
<g transform="translate(513,706.6)">
<path d="M-2.4,-8.4 L3,-8.2 Q7,-7.6 8.7,-3.8 Q9.8,0 8.2,2.6 L5.8,5.2 L0.6,8.2 Z" class="s" stroke-width="1.9"/>
<path d="M3.6,-7.8 Q6.6,-2 4.4,5.6 M1.2,-8 Q4.6,-1 2.2,6.8" class="l" stroke-width="1.4"/>
<ellipse cx="-2.7" cy="0" rx="5.5" ry="8" class="s" stroke-width="2"/>
<ellipse cx="-2.3" cy="0.5" rx="3.8" ry="5.4" class="s" stroke-width="1.2"/>
<ellipse cx="-3.1" cy="0.9" rx="1.6" ry="2.4" class="s" stroke-width="1.3"/>
</g>
<g transform="translate(679.6,798.6)">
<path d="M-2.4,-8.4 L3,-8.2 Q7,-7.6 8.7,-3.8 Q9.8,0 8.2,2.6 L5.8,5.2 L0.6,8.2 Z" class="s" stroke-width="1.9"/>
<path d="M3.6,-7.8 Q6.6,-2 4.4,5.6 M1.2,-8 Q4.6,-1 2.2,6.8" class="l" stroke-width="1.4"/>
<ellipse cx="-2.7" cy="0" rx="5.5" ry="8" class="s" stroke-width="2"/>
<ellipse cx="-2.3" cy="0.5" rx="3.8" ry="5.4" class="s" stroke-width="1.2"/>
<ellipse cx="-3.1" cy="0.9" rx="1.6" ry="2.4" class="s" stroke-width="1.3"/>
</g>
<path d="M497.4,768.4 L507,768.2 Q511.6,768.6 515,772 L534.6,792 Q538.2,796.6 535.6,800.6 Q533,804.6 528,805 L516,806 L509,790 L503,776 Z" class="s" stroke-width="1.6"/>
<path d="M500.6,770 L507,770.4 Q510.4,771 513,773.6 L532.4,793.4" class="l" stroke-width="1.1"/>
<path d="M455.6,797 L478.6,787.8 Q479,784.6 483.6,782.6 Q482.4,779 483.4,775.6 Q484.6,770.6 490,769.6 L497.4,768.4 Q506,768.6 509,772.6 L511,780 Q516,784 516.6,792 Q517.4,800 513,804.6 L504,806.6 L499.8,805 L481.8,812 L478,822 L470,823.4 L462,818 L452,812 Z" class="s" stroke-width="1.6"/>
<ellipse cx="497.4" cy="774.6" rx="6.6" ry="3.8" class="s" stroke-width="1.5"/><ellipse cx="497.6" cy="775.2" rx="3.6" ry="1.8" class="s" stroke-width="1.2"/>
<path d="M484.6,781 Q488,783.6 487.6,778 M509.4,776 Q514.4,786 512.4,797 M498,786.6 L507.6,791.4 M508.4,779.6 L507.6,791.4" class="l" stroke-width="1.3"/>
<ellipse cx="504.8" cy="799.6" rx="4.3" ry="5.8" class="s" stroke-width="1.7"/><ellipse cx="505.2" cy="799.8" rx="1.9" ry="2.8" class="s" stroke-width="1.2"/>
<path d="M527.6,794.4 Q524.6,794 524.8,797 Q525,800 527.6,799.4" class="l" stroke-width="1.3"/>
<g transform="translate(448.6,804) rotate(-18)">
<ellipse rx="6.6" ry="9.6" class="s" stroke-width="1.6"/>
</g>
<g transform="translate(453.2,811.4) rotate(-18)">
<ellipse rx="7.4" ry="10.4" class="s" stroke-width="1.8"/><ellipse cx="-0.8" cy="0" rx="5.6" ry="8.6" class="l" stroke-width="1.1"/>
</g>
<path d="M469,805 L473,803.4 Q480.6,806 481.2,813.6 Q481.4,820 477.4,822.6 L472,823.6 Q465,821 464.6,813 Q464.6,807.4 469,805 Z" class="s" stroke-width="1.6"/>
<ellipse cx="475.6" cy="815" rx="3.9" ry="5.4" class="s" stroke-width="1.5" transform="rotate(-12 475.6 815)"/><ellipse cx="476" cy="815.4" rx="1.7" ry="2.6" class="s" stroke-width="1.1"/>
<path d="M508,801 L529,809.2" class="l" stroke-width="1.4" stroke-dasharray="9 3" stroke-dashoffset="0"/>
<path d="M550,819.4 L558,823.7 Q566,828 575,829.3 L583,830.5 Q600,833 617,835.3 L633.1,837.5 Q641,838.6 648.4,835.6 L661.2,830.5 Q664,829.4 667,829.9 L667,829.9 Q670,830.4 672.8,831.7 L692.2,840.8 Q693.6,841.4 692.2,842 L676.6,849.4" class="ti" stroke-width="11.4"/>
<path d="M550,819.4 L558,823.7 Q566,828 575,829.3 L583,830.5 Q600,833 617,835.3 L633.1,837.5 Q641,838.6 648.4,835.6 L661.2,830.5 Q664,829.4 667,829.9 L667,829.9 Q670,830.4 672.8,831.7 L692.2,840.8 Q693.6,841.4 692.2,842 L676.6,849.4" class="to" stroke-width="8.6"/>
<path d="M550,819.4 L558,823.7 Q566,828 575,829.3 L583,830.5 Q600,833 617,835.3 L633.1,837.5 Q641,838.6 648.4,835.6 L661.2,830.5 Q664,829.4 667,829.9 L667,829.9 Q670,830.4 672.8,831.7 L692.2,840.8 Q693.6,841.4 692.2,842 L676.6,849.4" class="ti" stroke-width="5.2"/>
<g transform="translate(541.2,816.8) rotate(23) scale(1.06,1.06)">
<path d="M0,-4 L-7.4,-4 Q-9.8,-3.6 -9.8,0 Q-9.8,3.6 -7.4,4 L0,4 Z" class="s" stroke-width="1.7"/>
<path d="M-7.2,-4 Q-6,0 -7.2,4 M-4.8,-4 Q-3.6,0 -4.8,4 M-2.4,-4 Q-1.2,0 -2.4,4" class="l" stroke-width="1.9"/>
<path d="M-0.5,-3.6 L1.2,-6.1 L6.3,-6.1 L8.6,-3.4 L8.6,3.4 L6.3,6.1 L1.2,6.1 L-0.5,3.6 Z" class="s" stroke-width="1.8"/>
<path d="M0,-2.4 L8.3,-2.4 M0,2.8 L8.3,2.8 M1.8,-6 Q3.2,0 1.8,6" class="l" stroke-width="1.3"/>
</g>
<g transform="translate(666.8,853.8) rotate(-33) scale(1.06,1.06)">
<path d="M0,-4 L-7.4,-4 Q-9.8,-3.6 -9.8,0 Q-9.8,3.6 -7.4,4 L0,4 Z" class="s" stroke-width="1.7"/>
<path d="M-7.2,-4 Q-6,0 -7.2,4 M-4.8,-4 Q-3.6,0 -4.8,4 M-2.4,-4 Q-1.2,0 -2.4,4" class="l" stroke-width="1.9"/>
<path d="M-0.5,-3.6 L1.2,-6.1 L6.3,-6.1 L8.6,-3.4 L8.6,3.4 L6.3,6.1 L1.2,6.1 L-0.5,3.6 Z" class="s" stroke-width="1.8"/>
<path d="M0,-2.4 L8.3,-2.4 M0,2.8 L8.3,2.8 M1.8,-6 Q3.2,0 1.8,6" class="l" stroke-width="1.3"/>
</g>
<g transform="translate(347.2,771)">
<path d="M-12,-10 L-7,-10.6 L7,-4 L12.2,-1 L12.6,8 L8,10.6 L6,10 L-11.5,4 L-12,0.6 L-7.5,0.4 L2.6,4.4 Q5.6,3.8 5,1.6 Q4.4,-0.4 2.6,-1.4 L-7.4,-6.4 L-12,-6.4 Z" class="s" stroke-width="1.6"/>
<path d="M7,-4 L8,10.2 M9.6,0 L10,6.4" class="l" stroke-width="1.1"/>
</g>
<g transform="translate(640.4,864)">
<path d="M-12,-10 L-7,-10.6 L7,-4 L12.2,-1 L12.6,8 L8,10.6 L6,10 L-11.5,4 L-12,0.6 L-7.5,0.4 L2.6,4.4 Q5.6,3.8 5,1.6 Q4.4,-0.4 2.6,-1.4 L-7.4,-6.4 L-12,-6.4 Z" class="s" stroke-width="1.6"/>
<path d="M7,-4 L8,10.2 M9.6,0 L10,6.4" class="l" stroke-width="1.1"/>
</g>
<path d="M187.5,612.6 C189.6,613.5 196.2,616.1 200,618 C203.8,619.9 206.8,621.8 210,624 C213.2,626.2 216.3,628.7 219,631.4 C221.7,634.1 224.2,637 226.4,640 C228.6,643 230.4,646.3 232,649.6 C233.6,652.9 234.8,655.9 235.8,660 C236.8,664.1 237.5,669.2 238,674 C238.5,678.8 238.5,686.5 238.6,689" class="to" stroke-width="11.6"/>
<path d="M187.5,612.6 C189.6,613.5 196.2,616.1 200,618 C203.8,619.9 206.8,621.8 210,624 C213.2,626.2 216.3,628.7 219,631.4 C221.7,634.1 224.2,637 226.4,640 C228.6,643 230.4,646.3 232,649.6 C233.6,652.9 234.8,655.9 235.8,660 C236.8,664.1 237.5,669.2 238,674 C238.5,678.8 238.5,686.5 238.6,689" class="hi" stroke-width="7.8"/>
<g transform="translate(188.5,613) rotate(205) scale(0.98,0.98)">
<path d="M13,-4.3 L21,-4.3 Q24.5,-4 24.5,0 Q24.5,4 21,4.3 L13,4.3 Z" class="s" stroke-width="1.6"/>
<ellipse cx="21.6" cy="0" rx="1.8" ry="2.8" class="s" stroke-width="1.3"/>
<path d="M-1,-4.9 L7,-4.9 L7,4.9 L-1,4.9 Z" class="s" stroke-width="1.6"/>
<path d="M6.5,-3.8 L8,-6.4 L13.5,-6.4 L15.5,-3.8 L15.5,3.8 L13.5,6.4 L8,6.4 L6.5,3.8 Z" class="s" stroke-width="1.7"/>
<path d="M7,-2.4 L15.3,-2.4 M7,2.8 L15.3,2.8 M9,-6.2 Q10.2,0 9,6.2" class="l" stroke-width="1.1"/>
</g>
<path d="M228.2,690.6 Q238,686.6 247.6,690.6 L248,698.6 Q238,703 228.4,698.6 Z" class="s" stroke-width="1.7"/><path d="M228.4,694.4 Q238,698.6 248,694.4 M232,689.4 Q238,691.6 244,689.4" class="l" stroke-width="1.2"/>
<path d="M233.4,700.6 L233.6,707.4 Q238,708.6 242.8,707.4 L242.8,700.6" class="s" stroke-width="1.5"/>
<path d="M238.4,711.4 C238.7,712.8 239.3,717.1 240,720 C240.7,722.9 241.3,725.4 242.6,728.6 C243.9,731.8 245.7,735.8 247.6,739 C249.5,742.2 251.7,745.4 254,748 C256.3,750.6 258.9,752.8 261.6,754.6 C264.3,756.4 267.3,757.9 270,759 C272.7,760.1 275.3,760.6 278,761 C280.7,761.4 283.5,761.5 286,761.4 C288.5,761.3 290.7,760.9 293,760.4 C295.3,759.9 298.8,758.9 300,758.6" class="to" stroke-width="11.6"/>
<path d="M238.4,711.4 C238.7,712.8 239.3,717.1 240,720 C240.7,722.9 241.3,725.4 242.6,728.6 C243.9,731.8 245.7,735.8 247.6,739 C249.5,742.2 251.7,745.4 254,748 C256.3,750.6 258.9,752.8 261.6,754.6 C264.3,756.4 267.3,757.9 270,759 C272.7,760.1 275.3,760.6 278,761 C280.7,761.4 283.5,761.5 286,761.4 C288.5,761.3 290.7,760.9 293,760.4 C295.3,759.9 298.8,758.9 300,758.6" class="hi" stroke-width="7.8"/>
<path d="M232.9,712.4 L243.9,710.4" class="l"/>
<g transform="translate(300,758.6) rotate(-14) scale(0.98,0.98)">
<path d="M11,-4.6 L19,-4.6 Q23,-4.2 23,0 Q23,4.2 19,4.6 L11,4.6 Z" class="s" stroke-width="1.6"/>
<path d="M-1,-5 L7,-5 L7,5 L-1,5 Z" class="s" stroke-width="1.5"/>
<path d="M6.5,-3.8 L8,-6.2 L12.5,-6.2 L14,-3.8 L14,3.8 L12.5,6.2 L8,6.2 L6.5,3.8 Z" class="s" stroke-width="1.7"/>
<path d="M7,-2.4 L13.8,-2.4 M7,2.8 L13.8,2.8" class="l" stroke-width="1.1"/>
</g>
<path d="M601,883.2 C599.7,883.7 595.6,885 593,886.2 C590.4,887.4 587.8,889 585.6,890.6 C583.4,892.2 581.3,894 579.6,896 C577.9,898 576.5,900.2 575.4,902.4 C574.3,904.6 573.5,906.7 573,909 C572.5,911.3 572.3,913.5 572.6,916 C572.9,918.5 573.8,921.3 575,924 C576.2,926.7 577.9,929.6 580,932 C582.1,934.4 584.7,936.6 587.4,938.6 C590.1,940.6 592.9,942.5 596,944 C599.1,945.5 602.7,946.6 606,947.6 C609.3,948.6 612.3,949.3 616,949.8 C619.7,950.3 624,950.5 628,950.6 C632,950.7 636.2,950.5 640,950.2 C643.8,949.9 647.3,949.4 651,949 C654.7,948.6 660.2,947.8 662,947.6" class="to" stroke-width="11.6"/>
<path d="M601,883.2 C599.7,883.7 595.6,885 593,886.2 C590.4,887.4 587.8,889 585.6,890.6 C583.4,892.2 581.3,894 579.6,896 C577.9,898 576.5,900.2 575.4,902.4 C574.3,904.6 573.5,906.7 573,909 C572.5,911.3 572.3,913.5 572.6,916 C572.9,918.5 573.8,921.3 575,924 C576.2,926.7 577.9,929.6 580,932 C582.1,934.4 584.7,936.6 587.4,938.6 C590.1,940.6 592.9,942.5 596,944 C599.1,945.5 602.7,946.6 606,947.6 C609.3,948.6 612.3,949.3 616,949.8 C619.7,950.3 624,950.5 628,950.6 C632,950.7 636.2,950.5 640,950.2 C643.8,949.9 647.3,949.4 651,949 C654.7,948.6 660.2,947.8 662,947.6" class="hi" stroke-width="7.8"/>
<path d="M661.3,942 L662.7,953.2" class="l"/>
<g transform="translate(600.6,883.4) rotate(-25)">
<path d="M12,-4.6 L20,-4.6 Q24,-4.2 24,0 Q24,4.2 20,4.6 L12,4.6 Z" class="s" stroke-width="1.6"/>
<path d="M-1,-5 L8,-5 L8,5 L-1,5 Z" class="s" stroke-width="1.5"/>
<path d="M7.5,-3.8 L9,-6.2 L13.5,-6.2 L15,-3.8 L15,3.8 L13.5,6.2 L9,6.2 L7.5,3.8 Z" class="s" stroke-width="1.7"/>
<path d="M8,-2.4 L14.8,-2.4 M8,2.8 L14.8,2.8" class="l" stroke-width="1.1"/>
</g>
<path d="M666.5,947 C671.2,946.4 690.2,944.2 695,943.6" class="to" stroke-width="11.6"/>
<path d="M666.5,947 C671.2,946.4 690.2,944.2 695,943.6" class="hi" stroke-width="7.8"/>
<path d="M667.2,952.6 L665.8,941.4" class="l"/>
<path d="M708,942 C710.7,941.7 718.7,940.7 724,940.4 C729.3,940.1 735.7,939.8 740,940.2 C744.3,940.6 746.7,941.5 750,942.6 C753.3,943.7 756.7,945.1 760,946.6 C763.3,948.1 766.7,949.8 770,951.4 C773.3,953 776.5,954.4 780,956 C783.5,957.6 787.3,959.3 791,961 C794.7,962.7 800.2,965.2 802,966" class="to" stroke-width="11.6"/>
<path d="M708,942 C710.7,941.7 718.7,940.7 724,940.4 C729.3,940.1 735.7,939.8 740,940.2 C744.3,940.6 746.7,941.5 750,942.6 C753.3,943.7 756.7,945.1 760,946.6 C763.3,948.1 766.7,949.8 770,951.4 C773.3,953 776.5,954.4 780,956 C783.5,957.6 787.3,959.3 791,961 C794.7,962.7 800.2,965.2 802,966" class="hi" stroke-width="7.8"/>
<path d="M694.6,934.8 Q691,944 694.6,953.8 L707.6,953 Q711.2,943.6 707.6,934 Z" class="s" stroke-width="1.8"/><path d="M698.8,934.6 Q695.4,944 698.8,953.4 M703,934.4 Q699.6,944 703,953.2" class="l" stroke-width="1.3"/>
<g transform="translate(803.4,966.6) rotate(25)">
<path d="M16,-4.3 L24,-4.3 Q27.5,-4 27.5,0 Q27.5,4 24,4.3 L16,4.3 Z" class="s" stroke-width="1.6"/>
<ellipse cx="24.6" cy="0" rx="1.8" ry="2.8" class="s" stroke-width="1.3"/>
<path d="M-1,-4.9 L10,-4.9 L10,4.9 L-1,4.9 Z" class="s" stroke-width="1.6"/>
<path d="M9.5,-3.8 L11,-6.4 L16.5,-6.4 L18.5,-3.8 L18.5,3.8 L16.5,6.4 L11,6.4 L9.5,3.8 Z" class="s" stroke-width="1.7"/>
<path d="M10,-2.4 L18.3,-2.4 M10,2.8 L18.3,2.8 M12,-6.2 Q13.2,0 12,6.2" class="l" stroke-width="1.1"/>
</g>
<path d="M734,865.6 L750.1,862.4 Q756,861.2 756.4,867.2 L759.5,908.4 Q760,915.4 766.1,918.8 L781,927" class="to" stroke-width="9.2"/>
<path d="M734,865.6 L750.1,862.4 Q756,861.2 756.4,867.2 L759.5,908.4 Q760,915.4 766.1,918.8 L781,927" class="ti" stroke-width="5.8"/>
<g transform="translate(720.6,868) rotate(-9) scale(1.45,1.04)">
<path d="M0,-4 L-7.4,-4 Q-9.8,-3.6 -9.8,0 Q-9.8,3.6 -7.4,4 L0,4 Z" class="s" stroke-width="1.7"/>
<path d="M-7.2,-4 Q-6,0 -7.2,4 M-4.8,-4 Q-3.6,0 -4.8,4 M-2.4,-4 Q-1.2,0 -2.4,4" class="l" stroke-width="1.9"/>
<path d="M-0.5,-3.6 L1.2,-6.1 L6.3,-6.1 L8.6,-3.4 L8.6,3.4 L6.3,6.1 L1.2,6.1 L-0.5,3.6 Z" class="s" stroke-width="1.8"/>
<path d="M0,-2.4 L8.3,-2.4 M0,2.8 L8.3,2.8 M1.8,-6 Q3.2,0 1.8,6" class="l" stroke-width="1.3"/>
</g>
<g transform="translate(792,931) rotate(205) scale(1.28,1.11)">
<path d="M0,-4 L-7.4,-4 Q-9.8,-3.6 -9.8,0 Q-9.8,3.6 -7.4,4 L0,4 Z" class="s" stroke-width="1.7"/>
<path d="M-7.2,-4 Q-6,0 -7.2,4 M-4.8,-4 Q-3.6,0 -4.8,4 M-2.4,-4 Q-1.2,0 -2.4,4" class="l" stroke-width="1.9"/>
<path d="M-0.5,-3.6 L1.2,-6.1 L6.3,-6.1 L8.6,-3.4 L8.6,3.4 L6.3,6.1 L1.2,6.1 L-0.5,3.6 Z" class="s" stroke-width="1.8"/>
<path d="M0,-2.4 L8.3,-2.4 M0,2.8 L8.3,2.8 M1.8,-6 Q3.2,0 1.8,6" class="l" stroke-width="1.3"/>
</g>
<path d="M186,48 L186,61" class="l" stroke-width="1.7"/>
<path d="M235.6,48 L235.6,64" class="l" stroke-width="1.7"/>
<path d="M246.2,170 L246.2,198.5" class="l" stroke-width="1.7"/>
<path d="M343,211 L343,234" class="l" stroke-width="1.7"/>
<path d="M432,295 L432,319" class="l" stroke-width="1.7"/>
<path d="M521,335 L521,356" class="l" stroke-width="1.7"/>
<path d="M589.4,336 L589.4,363" class="l" stroke-width="1.7"/>
<path d="M430.6,413.3 L469,414" class="l" stroke-width="1.7"/>
<path d="M540.5,410 L578.4,410" class="l" stroke-width="1.7"/>
<path d="M646.6,418.2 L671,418.2" class="l" stroke-width="1.7"/>
<path d="M421,444.4 L439,444.4" class="l" stroke-width="1.7"/>
<path d="M733,456 L733,478.5" class="l" stroke-width="1.7"/>
<path d="M811,477 L811,503" class="l" stroke-width="1.7"/>
<path d="M266,467.6 L305,467.6" class="l" stroke-width="1.7"/>
<path d="M266,492.4 L303,492.4" class="l" stroke-width="1.7"/>
<path d="M397,512 L397,534" class="l" stroke-width="1.7"/>
<path d="M534,564 L534,589" class="l" stroke-width="1.7"/>
<path d="M610.6,593 L610.6,618" class="l" stroke-width="1.7"/>
<path d="M739.4,659 L739.4,688" class="l" stroke-width="1.7"/>
<path d="M819,646.6 L833.4,643.8" class="l" stroke-width="1.7"/>
<path d="M829.4,689 L829.4,708" class="l" stroke-width="1.7"/>
<path d="M381.6,625 L381.6,642" class="l" stroke-width="1.7"/>
<path d="M420.6,679 L420.6,686" class="l" stroke-width="1.7"/>
<path d="M205,657 L229,657" class="l" stroke-width="1.7"/>
<path d="M363,733 L382,733" class="l" stroke-width="1.7"/>
<path d="M484,709.4 L504,709.4" class="l" stroke-width="1.7"/>
<path d="M629.6,716 L629.6,739" class="l" stroke-width="1.7"/>
<path d="M692,795.4 L723,795.4" class="l" stroke-width="1.7"/>
<path d="M344.8,782 L344.8,807.7" class="l" stroke-width="1.7"/>
<path d="M396,785 L396,807" class="l" stroke-width="1.7"/>
<path d="M586.4,836 L586.4,852" class="l" stroke-width="1.7"/>
<path d="M645,876 L645,898" class="l" stroke-width="1.7"/>
<path d="M765,882.4 L792,881.6" class="l" stroke-width="1.7"/>
<path d="M745.6,949 L745.6,965" class="l" stroke-width="1.7"/>
<g style="opacity:0.999">
<text transform="translate(187,46) scale(0.90,1)" font-size="16.2">12</text>
<text transform="translate(236.5,46) scale(0.90,1)" font-size="16.2">13</text>
<text transform="translate(246.5,214.1) scale(0.90,1)" font-size="16.2">9</text>
<text transform="translate(343.4,208.8) scale(0.90,1)" font-size="16.2">17</text>
<text transform="translate(432.4,290.8) scale(0.90,1)" font-size="16.2">2</text>
<text transform="translate(521.4,331.8) scale(0.90,1)" font-size="16.2">17</text>
<text transform="translate(590,332.8) scale(0.90,1)" font-size="16.2">16</text>
<text transform="translate(411.7,419.4) scale(0.90,1)" font-size="16.2">14 A</text>
<text transform="translate(588.5,416.8) scale(0.90,1)" font-size="16.2">14</text>
<text transform="translate(680.4,423.8) scale(0.90,1)" font-size="16.2">18</text>
<text transform="translate(415,449.8) scale(0.90,1)" font-size="16.2">7</text>
<text transform="translate(733,452.3) scale(0.90,1)" font-size="16.2">8</text>
<text transform="translate(811.4,474.4) scale(0.90,1)" font-size="16.2">17</text>
<text transform="translate(255,473.8) scale(0.90,1)" font-size="16.2">20</text>
<text transform="translate(254.4,497.2) scale(0.90,1)" font-size="16.2">21</text>
<text transform="translate(395.4,549.8) scale(0.90,1)" font-size="16.2">11</text>
<text transform="translate(534,560.8) scale(0.90,1)" font-size="16.2">2</text>
<text transform="translate(611.4,590.8) scale(0.90,1)" font-size="16.2">17</text>
<text transform="translate(740.6,702.8) scale(0.90,1)" font-size="16.2">10</text>
<text transform="translate(808.6,653.2) scale(0.90,1)" font-size="16.2">13</text>
<text transform="translate(830,723.8) scale(0.90,1)" font-size="16.2">12</text>
<text transform="translate(381.6,621.8) scale(0.90,1)" font-size="16.2">15</text>
<text transform="translate(421,699.8) scale(0.90,1)" font-size="16.2">15</text>
<text transform="translate(200.6,663.2) scale(0.90,1)" font-size="16.2">1</text>
<text transform="translate(388,739.8) scale(0.90,1)" font-size="16.2">3</text>
<text transform="translate(473.6,715.2) scale(0.90,1)" font-size="16.2">19</text>
<text transform="translate(629.6,711.8) scale(0.90,1)" font-size="16.2">6</text>
<text transform="translate(732,801.8) scale(0.90,1)" font-size="16.2">19</text>
<text transform="translate(344.8,821.8) scale(0.90,1)" font-size="16.2">17</text>
<text transform="translate(395.6,821.3) scale(0.90,1)" font-size="16.2">4</text>
<text transform="translate(587.4,864.8) scale(0.90,1)" font-size="16.2">5</text>
<text transform="translate(645,912.8) scale(0.90,1)" font-size="16.2">17</text>
<text transform="translate(804.4,887.8) scale(0.90,1)" font-size="16.2">1A</text>
<text transform="translate(745.4,980.8) scale(0.90,1)" font-size="16.2">1</text>
</g>
</svg>
</body>
</html>
